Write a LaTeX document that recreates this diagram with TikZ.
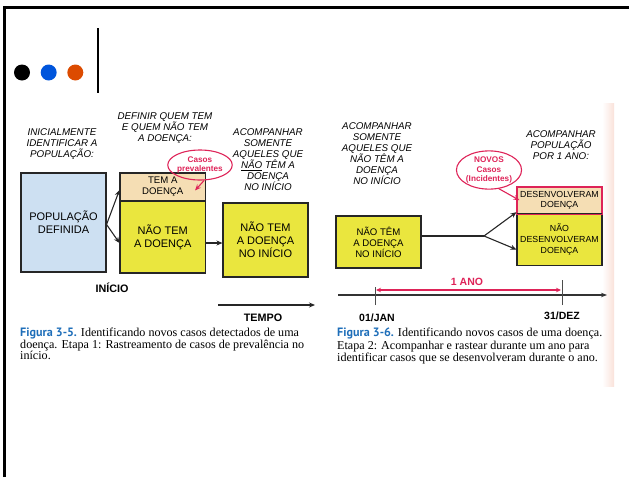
\documentclass[tikz,border=0pt]{standalone}
\usepackage{fontspec}
\setmainfont{Liberation Serif}
\newfontfamily\dsans{Liberation Sans}
\newfontfamily\capsans{PT Sans}
\usetikzlibrary{arrows.meta,calc,shapes.geometric}
\definecolor{ylw}{RGB}{234,230,62}
\definecolor{tanc}{RGB}{245,222,180}
\definecolor{pblue}{RGB}{205,224,242}
\definecolor{crim}{RGB}{222,35,88}
\definecolor{figblue}{RGB}{30,110,185}
\definecolor{dotblue}{RGB}{0,85,220}
\definecolor{dotorange}{RGB}{220,75,0}
\definecolor{pagepink}{RGB}{250,226,218}
\begin{document}
\begin{tikzpicture}[x=1pt,y=-1pt,
  box/.style={draw=black!85,line width=1.1pt,inner sep=0pt,align=center,
    font=\dsans\fontsize{11}{13}\selectfont},
  sbox/.style={box,font=\dsans\fontsize{9.6}{11}\selectfont},
  tbox/.style={box,font=\dsans\fontsize{8.8}{10.3}\selectfont},
  head/.style={align=center,inner sep=0pt,font=\dsans\itshape\fontsize{9.8}{11}\selectfont},
  lbl/.style={inner sep=0pt,font=\dsans\bfseries\fontsize{10.5}{12}\selectfont},
  bubble/.style={ellipse,draw=crim,line width=1.1pt,inner sep=0pt,align=center,text=crim,
    font=\dsans\bfseries\fontsize{8.2}{9.8}\selectfont},
  arr/.style={line width=1.1pt,draw=black!85,-{Stealth[length=6pt,width=5pt]}},
  rarr/.style={line width=1.1pt,draw=crim,-{Stealth[length=6pt,width=5pt]}},
  captxt/.style={anchor=base west,inner sep=0pt,font=\fontsize{12.1}{13}\selectfont}
]
\useasboundingbox (0,0) rectangle (629,477);
% page edge tint
\shade[left color=white,right color=pagepink] (602,103) rectangle (614,386);
% frame
\draw[line width=3pt,line join=miter] (4.3,477) -- (4.3,7.5) -- (629,7.5);
% header dots and bar
\fill[black] (22,72.5) circle (8);
\fill[dotblue] (48.7,72.5) circle (8);
\fill[dotorange] (75.3,72.5) circle (8);
\draw[line width=2pt] (97.7,28) -- (97.7,93);

% ---------- left figure ----------
\node[head] (h1) at (62,144) {INICIALMENTE\\IDENTIFICAR A\\POPULAÇÃO:};
\node[head] (h2) at (165,128.5) {DEFINIR QUEM TEM\\E QUEM NÃO TEM\\A DOENÇA:};
\node[head] (h3) at (268,160) {ACOMPANHAR\\SOMENTE\\AQUELES QUE\\\underline{NÃO} TÊM A\\DOENÇA\\NO INÍCIO};

\node[box,fill=pblue,minimum width=85,minimum height=99] (pop) at (63.5,222.5) {POPULAÇÃO\\DEFINIDA};
\node[sbox,fill=tanc,minimum width=85.5,minimum height=28] (tem) at (162.75,187) {TEM A\\DOENÇA};
\node[box,fill=ylw,minimum width=85.5,minimum height=72] (naotem) at (162.75,237) {NÃO TEM\\A DOENÇA};
\node[box,fill=ylw,minimum width=85,minimum height=74] (nti) at (265.5,240) {NÃO TEM\\A DOENÇA\\NO INÍCIO};

\coordinate (f1) at ($(pop.east)+(0,2)$);
\draw[arr] (f1) -- ($(tem.west)+(0,3)$);
\draw[arr] (f1) -- ($(naotem.west)+(0,6)$);
\coordinate (m1) at ($(nti.west)+(0,3)$);
\draw[arr] (naotem.east |- m1) -- (m1);

\node[bubble,minimum width=57,minimum height=30] (cp) at (200,165) {Casos\\prevalentes};
\draw[rarr] (cp.-75) -- ($(tem.north east)+(-11,18)$);

\node[lbl,font=\dsans\bfseries\fontsize{10.8}{12}\selectfont] (inicio) at (112,288) {INÍCIO};
\coordinate (t0) at (218,305);
\coordinate (t1) at (315,305);
\draw[arr,line width=1.2pt] (t0) -- (t1);
\node[lbl,font=\dsans\bfseries\fontsize{10.8}{12}\selectfont] (tempo) at (263,318) {TEMPO};

\node[captxt] (c1a) at (20,336.5) {\textcolor{figblue}{\capsans\bfseries Figura 3-5.} Identificando novos casos detectados de uma};
\node[captxt] (c1b) at (20,348) {doença. Etapa 1: Rastreamento de casos de prevalência no};
\node[captxt] (c1c) at (20,359) {início.};

% ---------- right figure ----------
\node[head] (h4) at (377,153.5) {ACOMPANHAR\\SOMENTE\\AQUELES QUE\\NÃO TÊM A\\DOENÇA\\NO INÍCIO};
\node[head] (h5) at (561,145.5) {ACOMPANHAR\\POPULAÇÃO\\POR 1 ANO:};

\node[sbox,fill=ylw,minimum width=85,minimum height=52] (rnti) at (378.5,242) {NÃO TÊM\\A DOENÇA\\NO INÍCIO};
\node[tbox,fill=tanc,draw=crim,minimum width=85,minimum height=26.5] (desenv) at (559.5,200.25) {DESENVOLVERAM\\DOENÇA};
\node[tbox,fill=ylw,minimum width=85,minimum height=51.5,font=\dsans\fontsize{8.8}{11}\selectfont] (naodesenv) at (559.5,239.5) {NÃO\\DESENVOLVERAM\\DOENÇA};
\draw[crim,line width=1.1pt] (desenv.north west) rectangle (desenv.south east);

\coordinate (f2) at (484,236);
\draw[line width=1.1pt,draw=black!85] ($(rnti.east)+(0,-6)$) -- (f2);
\draw[arr] (f2) -- ($(naodesenv.north west)+(0,-1)$);
\draw[arr] (f2) -- ($(naodesenv.west)+(0,10)$);

\node[bubble,minimum width=64,minimum height=38] (nc) at (489,170) {NOVOS\\Casos\\(Incidentes)};
\draw[rarr] (nc.-62) -- ($(desenv.west)+(3,0)$);

% timeline
\coordinate (a0) at (338,295);
\coordinate (a1) at (607,295);
\draw[line width=1.1pt,draw=black!80,-{Stealth[length=6pt,width=4.5pt]}] (a0) -- (a1);
\coordinate (jan) at (375,305);
\coordinate (dez) at (562,305);
\draw[line width=0.8pt,draw=black!70] (jan) -- ++(0,-18);
\draw[line width=0.8pt,draw=black!70] (dez) -- ++(0,-25);
\draw[line width=1.1pt,draw=crim,{Stealth[length=5pt,width=4.5pt]}-{Stealth[length=5pt,width=4.5pt]}] ($(jan)+(1,-15)$) -- ($(dez)+(-1,-15)$);
\node[lbl,text=crim] (ano) at (467,282) {1 ANO};
\node[lbl] (ljan) at (377,318) {01/JAN};
\node[lbl] (ldez) at (562,315.5) {31/DEZ};

\node[captxt] (c2a) at (337,336.5) {\textcolor{figblue}{\capsans\bfseries Figura 3-6.} Identificando novos casos de uma doença.};
\node[captxt] (c2b) at (337,349) {Etapa 2: Acompanhar e rastear durante um ano para};
\node[captxt] (c2c) at (337,361) {identificar casos que se desenvolveram durante o ano.};
\end{tikzpicture}
\end{document}
